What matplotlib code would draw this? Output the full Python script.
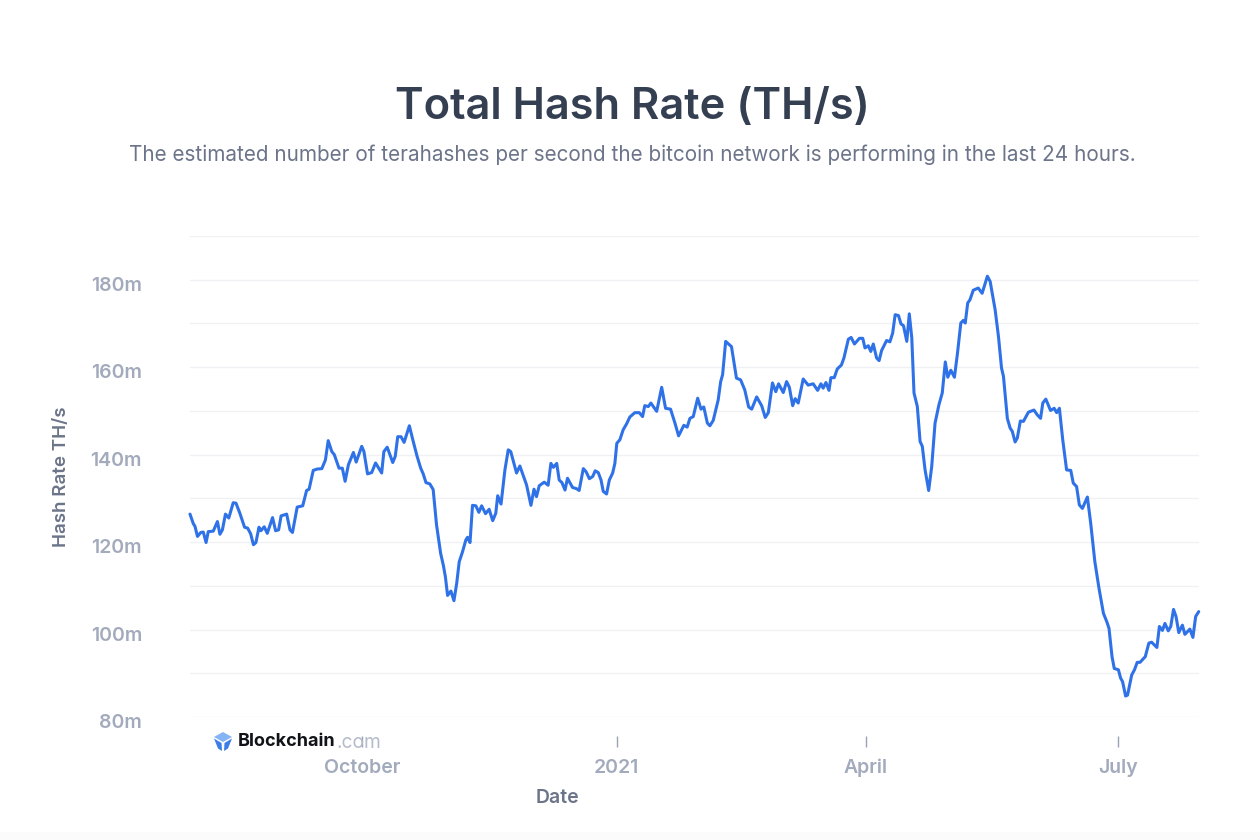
import pandas as pd
import matplotlib
matplotlib.use('Agg')
import matplotlib.pyplot as plt
from matplotlib.patches import Polygon, Rectangle
from matplotlib.transforms import ScaledTranslation

# data: days since the first sample, hash rate in millions of TH/s
start_date = pd.Timestamp('2020-07-31')

days = [0, 1.2, 1.8, 2.7, 3.9, 4.8, 5.8, 6.6, 8.4, 9.9, 10.8, 11.7, 12.8, 14, 15.6, 16.6, 18, 19.7, 20.8, 21.9,
        22.9, 23.8, 24.9, 25.6, 26.8, 27.9, 29.8, 30.9, 32, 32.9, 34.9, 36.1, 37, 38.7, 40.7, 42.1, 43, 44.5, 45.9, 47.6,
        48.9, 49.9, 51.2, 52.1, 53.8, 55, 56, 57.2, 59, 60, 62, 62.8, 64.1, 65.6, 67, 69.2, 70, 71.2, 73.2, 74.1,
        75, 76.2, 77.3, 79.2, 80.6, 82, 83.3, 84.2, 85.2, 86.6, 87.8, 89, 90.5, 91.5, 92.2, 93, 94.2, 95.3, 96.3, 97.2,
        98.4, 99.6, 100.2, 101.1, 102, 103.2, 104.3, 105.3, 106.7, 108, 109.3, 110.4, 111.1, 112.3, 113.7, 114.9, 115.8, 117.9, 119.1, 121.5,
        123.1, 124.2, 125.1, 126.1, 127.9, 129.3, 130.3, 131.2, 132.4, 133.3, 134.3, 135.4, 136.3, 138.1, 139.6, 140.5, 142, 143, 144.2, 145.4,
        146.3, 147.4, 148.4, 149.2, 150.4, 151.4, 152.6, 153.4, 154.1, 155.2, 156.4, 157.6, 158.8, 160.6, 162.2, 163.4, 164.2, 165.5, 166.4, 168.5,
        170.3, 171.7, 173.5, 175.1, 176.4, 178.3, 179.5, 180.5, 181.7, 183.3, 184.5, 185.5, 186.8, 187.7, 188.9, 190.7, 191.6, 192.3, 193.4, 195.5,
        197.3, 198.8, 200.3, 201.7, 202.8, 204.6, 206.4, 207.7, 208.8, 210.3, 211.5, 212.5, 214.2, 215.4, 216.4, 217.6, 218.5, 219.6, 221.4, 223.2,
        225, 226.6, 227.8, 228.6, 229.6, 230.7, 231.4, 232.6, 233.7, 235.2, 236.1, 237.7, 238.7, 239.9, 241.7, 242.9, 243.7, 244.9, 245.8, 246.7,
        247.9, 248.8, 249.7, 251.5, 252.7, 253.7, 254.6, 255.8, 256.7, 257.6, 258.8, 259.7, 260.6, 261.4, 262.6, 263.6, 264.4, 265.4, 266.7, 267.8,
        269, 270.4, 271.6, 272.7, 273.6, 274.7, 276, 277.1, 278.3, 279.2, 279.9, 280.8, 281.6, 282.8, 284.6, 286, 287.9, 288.9, 290.7, 291.9,
        293, 293.7, 295.1, 296.1, 296.9, 297.9, 298.7, 299.8, 300.9, 302.7, 304.7, 305.9, 307.1, 307.9, 309, 310.7, 312, 312.9, 313.9, 315.1,
        316.5, 318, 318.9, 320.1, 321.1, 322.2, 324, 325.2, 326.7, 328.2, 329.8, 331, 331.8, 332.9, 333.7, 335.2, 336, 336.7, 337.8, 338.5,
        340, 341, 342, 343, 344.9, 346.2, 347.2, 349.1, 350, 351.1, 352, 353.2, 354.1, 355.1, 356, 357, 358.3, 359.2, 361, 362.1,
        363.1, 364.2]

hash_rate = [126.4, 124.2, 123.6, 121.3, 122.2, 122.3, 119.9, 122.4, 122.5, 124.7, 121.8, 122.8, 126.4, 125.5, 129, 128.9, 126.6, 123.4, 123.2, 121.9,
             119.4, 119.9, 123.4, 122.6, 123.5, 122, 125.6, 122.6, 122.8, 126, 126.4, 122.8, 122.2, 128, 128.3, 131.8, 132.1, 136.4, 136.7, 136.8,
             138.8, 143.2, 140.7, 140, 136.9, 136.9, 133.9, 137.7, 140.5, 138.3, 141.9, 140.7, 135.6, 135.9, 138.1, 135.8, 140.7, 141.7, 138.2, 139.6,
             144.1, 144.1, 142.8, 146.6, 143, 139.6, 136.9, 135.6, 133.6, 133.3, 132, 124, 117.4, 114.6, 112.1, 107.8, 108.8, 106.6, 110.6, 115.5,
             117.8, 120.5, 121.1, 119.9, 128.4, 128.3, 126.8, 128.3, 126.5, 127.5, 124.9, 126.6, 130.6, 128.7, 136.5, 141.1, 140.7, 135.8, 137.4, 133.1,
             128.4, 132.1, 130.4, 132.9, 133.7, 133, 138, 137.1, 138, 134.2, 133.6, 131.9, 134.6, 132.5, 132.2, 131.8, 136.8, 136.1, 134.5, 135,
             136.3, 135.9, 134.2, 131.6, 131, 134.2, 135.8, 138, 142.6, 143.4, 145.7, 147, 148.6, 149.6, 149.6, 148.7, 151.2, 151, 151.8, 149.9,
             155.4, 150.6, 150.4, 147.2, 144.3, 146.7, 146.3, 148.3, 148.7, 152.9, 150.4, 150.9, 147.2, 146.6, 147.8, 152.5, 156.7, 158.3, 165.9, 164.7,
             157.5, 157.1, 154.8, 150.9, 150.4, 153.2, 151.2, 148.5, 149.6, 156.4, 154.4, 156.2, 154.2, 156.7, 155.4, 151.2, 152.8, 151.8, 157.3, 155.9,
             156.2, 154.7, 156.2, 155.2, 156.5, 154.7, 157.6, 157.6, 159.6, 160.5, 162.1, 166.4, 166.8, 165.3, 166.6, 166.6, 164.4, 164.9, 163.6, 165.3,
             162.1, 161.5, 163.8, 166.1, 165.8, 167.8, 172, 171.8, 169.9, 169.5, 165.9, 172.2, 166.7, 154.1, 151, 143, 141.9, 136.5, 131.8, 137.3,
             147.2, 151.4, 154.1, 161.2, 157.7, 159.3, 157.7, 163.2, 170.1, 170.7, 170.1, 174.7, 175.4, 177.6, 178.1, 176.9, 180.8, 179.6, 173.1, 167,
             159.8, 157.9, 148.3, 146.1, 145.3, 142.9, 143.8, 147.7, 147.6, 149.7, 150.2, 149.1, 148.3, 151.8, 152.7, 150.1, 150.6, 149.6, 150.6, 143.4,
             136.5, 136.4, 133.5, 132.7, 128.5, 127.7, 130.3, 124.3, 115.5, 109.4, 103.7, 101.8, 100.3, 93.8, 91.1, 90.8, 88.9, 88.1, 84.8, 85,
             89.6, 90.8, 92.5, 92.5, 93.8, 96.9, 97.1, 95.9, 100.7, 99.8, 101.4, 99.7, 100.7, 104.6, 103, 99.3, 101, 98.9, 100.1, 98.2,
             103, 104.1]

y_ticks = [80, 100, 120, 140, 160, 180]
y_grid = [80, 90, 100, 110, 120, 130, 140, 150, 160, 170, 180, 190]
x_tick_dates = ['2020-10-01', '2021-01-01', '2021-04-01', '2021-07-01']
x_tick_labels = ['October', '2021', 'April', 'July']

plt.rcParams['font.family'] = ['Inter', 'DejaVu Sans']

W, H = 1260, 840
LINE = '#2f72e8'
DARK = '#353f52'
MID = '#6c7489'
LIGHT = '#a2aabc'
GRID = '#f0f1f5'

fig = plt.figure(figsize=(W / 100, H / 100), dpi=100, facecolor='white')


def fx(x):
    return x / W


def fy(y):
    return 1 - y / H


# faint off-white strip along the bottom edge
fig.add_artist(Rectangle((0, 0), 1, 8 / H, transform=fig.transFigure, facecolor='#fbfbfb', edgecolor='none'))

ax = fig.add_axes([190 / W, (H - 717) / H, (1199 - 190) / W, (717 - 236) / H])
ax.patch.set_alpha(0)

dates = start_date + pd.to_timedelta(days, unit='D')
ax.plot(dates, hash_rate, color=LINE, lw=2.2, solid_joinstyle='round', solid_capstyle='round', zorder=3, clip_on=False)

ax.set_ylim(80, 190)
ax.set_xlim(start_date, start_date + pd.Timedelta(days=364.3))

# gridlines every 10m, labels only every 20m
ax.set_yticks(y_grid, minor=True)
ax.set_yticks(y_ticks)
ax.set_yticklabels([f'{v}m' for v in y_ticks])
ax.grid(True, which='both', axis='y', color=GRID, lw=1.0, zorder=0)
ax.grid(False, axis='x')
ax.set_axisbelow(True)
ax.tick_params(axis='y', which='both', length=0)
ax.tick_params(axis='y', which='major', labelsize=14, labelcolor=LIGHT, pad=34.5)

# y labels sit a little below their gridlines
offset = ScaledTranslation(0, -4 / 100, fig.dpi_scale_trans)
for lab in ax.get_yticklabels():
    lab.set_transform(lab.get_transform() + offset)
    lab.set_fontweight('semibold')

# ticks float below the plot area
for name in ['top', 'right', 'left']:
    ax.spines[name].set_visible(False)
ax.spines['bottom'].set_position(('outward', 14))
ax.spines['bottom'].set_linewidth(0)

ax.set_xticks(pd.to_datetime(x_tick_dates))
ax.set_xticklabels(x_tick_labels, fontweight='semibold')
ax.tick_params(axis='x', length=8, width=1, color='#9aa2b4', labelsize=14, labelcolor=LIGHT, pad=18.5, direction='out')

# same baseline for all x labels, whatever their letters
for lab in ax.get_xticklabels():
    lab.set_verticalalignment('baseline')

fig.text(fx(632.5), fy(119), 'Total Hash Rate (TH/s)', ha='center', va='baseline', fontsize=31.3, fontweight='semibold', color=DARK)
fig.text(fx(632.5), fy(161), 'The estimated number of terahashes per second the bitcoin network is performing in the last 24 hours.',
         ha='center', va='baseline', fontsize=14.9, color=MID)
fig.text(fx(61), fy(477), 'Hash Rate TH/s', ha='center', va='center', rotation=90, fontsize=13.5, fontweight='semibold', color=MID)
fig.text(fx(557.5), fy(798), 'Date', ha='center', va='center', fontsize=14, fontweight='semibold', color=MID)

# logo
logo_top = [(214, 0), (223, -5), (232, 0), (223, 5)]
logo_left = [(214, 1.5), (221.5, 6), (222, 14), (218, 11.5)]
logo_right = [(232, 1.5), (224.5, 6), (224, 14), (228, 11.5)]
for pts, col in [(logo_top, '#85b4f4'), (logo_left, '#3c7de6'), (logo_right, '#3c7de6')]:
    fig.add_artist(Polygon([(fx(x), fy(737 + y)) for x, y in pts], closed=True, transform=fig.transFigure, facecolor=col, edgecolor='none'))
fig.text(fx(238), fy(742), 'Blockchain', ha='left', va='center', fontsize=13, fontweight='bold', color='#111318')
fig.text(fx(336.5), fy(743), '.com', ha='left', va='center', fontsize=13.8, color='#b4bbca')

fig.savefig('out.png', dpi=100)
